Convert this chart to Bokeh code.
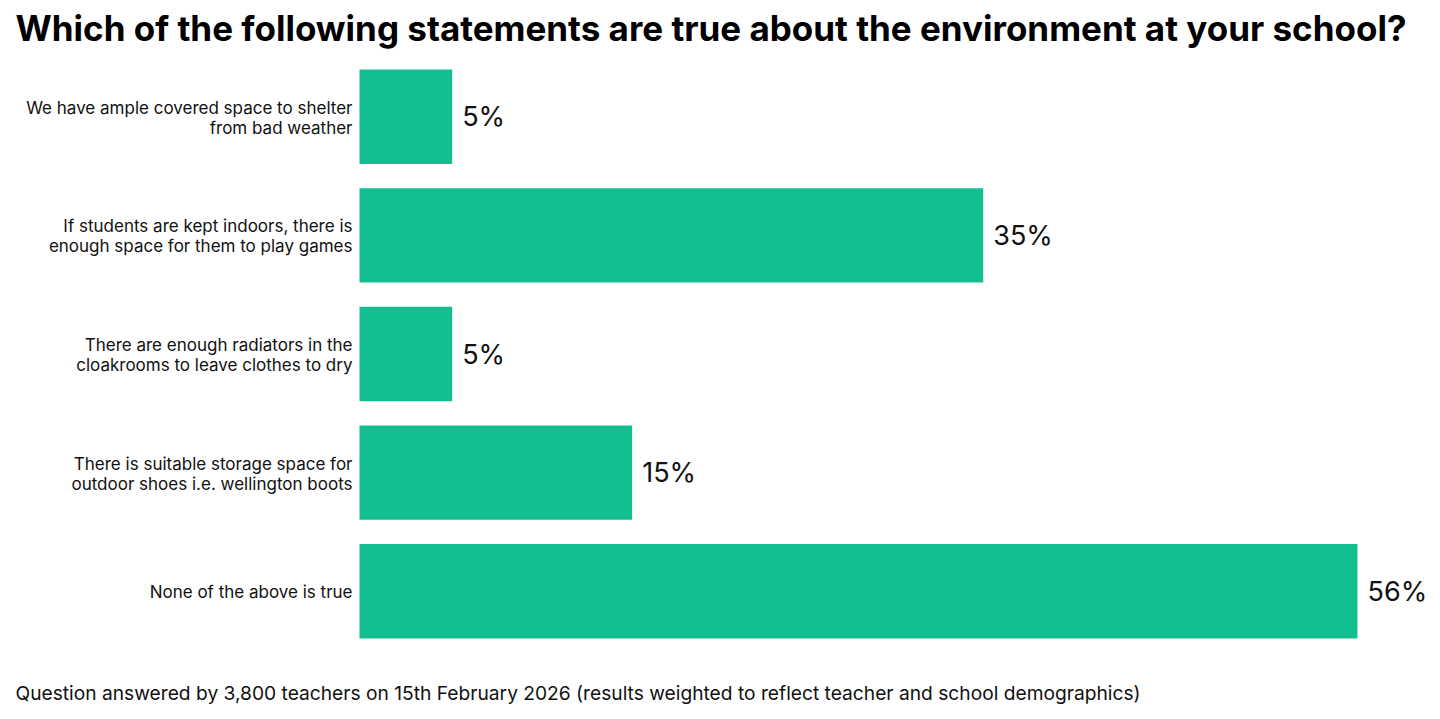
from bokeh.plotting import figure
from bokeh.models import Range1d, FactorRange, ColumnDataSource, Label, LabelSet
from bokeh.core.properties import value
from bokeh.embed import file_html
from bokeh.resources import INLINE

categories = [
    "We have ample covered space to shelter\nfrom bad weather",
    "If students are kept indoors, there is\nenough space for them to play games",
    "There are enough radiators in the\ncloakrooms to leave clothes to dry",
    "There is suitable storage space for\noutdoor shoes i.e. wellington boots",
    "None of the above is true",
]
values = [5.2, 35.0, 5.2, 15.3, 56.0]
value_labels = ["5%", "35%", "5%", "15%", "56%"]

TITLE = "Which of the following statements are true about the environment at your school?"
NOTE = "Question answered by 3,800 teachers on 15th February 2026 (results weighted to reflect teacher and school demographics)"
FONT = "Inter"
COLOR = "#13be90"

src = ColumnDataSource(dict(cat=categories, val=values, lab=value_labels))

W, H = 1432, 707
p = figure(
    width=W, height=H,
    y_range=FactorRange(factors=categories[::-1], range_padding=0.48,
                        range_padding_units="absolute"),
    x_range=Range1d(-20.145, 60.21),
    output_backend="svg", toolbar_location=None,
    min_border=0,
)
p.title.visible = False
p.axis.visible = False
p.grid.visible = False
p.outline_line_color = None

p.hbar(y="cat", right="val", height=0.795, left=0, source=src, color=COLOR, line_color=None)

p.text(x=0, y="cat", text="cat", source=src, x_offset=-7, y_offset=1, text_align="right",
       text_baseline="middle", text_font=value(FONT), text_font_size=value("17px"),
       text_color="#111111", text_line_height=1.0)

labels = LabelSet(x="val", y="cat", text="lab", source=src, x_offset=10, y_offset=0,
                  text_baseline="middle", text_font=value(FONT), text_font_size="27px",
                  text_color="#111111")
p.add_layout(labels)

t = Label(x=15, y=H - 27, x_units="screen", y_units="screen", text=TITLE,
          text_font=FONT, text_font_size="35px", text_font_style="bold",
          text_color="#000000", text_baseline="middle", text_align="left")
p.add_layout(t)
n = Label(x=15, y=H - 692, x_units="screen", y_units="screen", text=NOTE,
          text_font=FONT, text_font_size="19.2px", text_color="#111111",
          text_baseline="middle", text_align="left")
p.add_layout(n)

open("out.html", "w").write(file_html(p, INLINE))
